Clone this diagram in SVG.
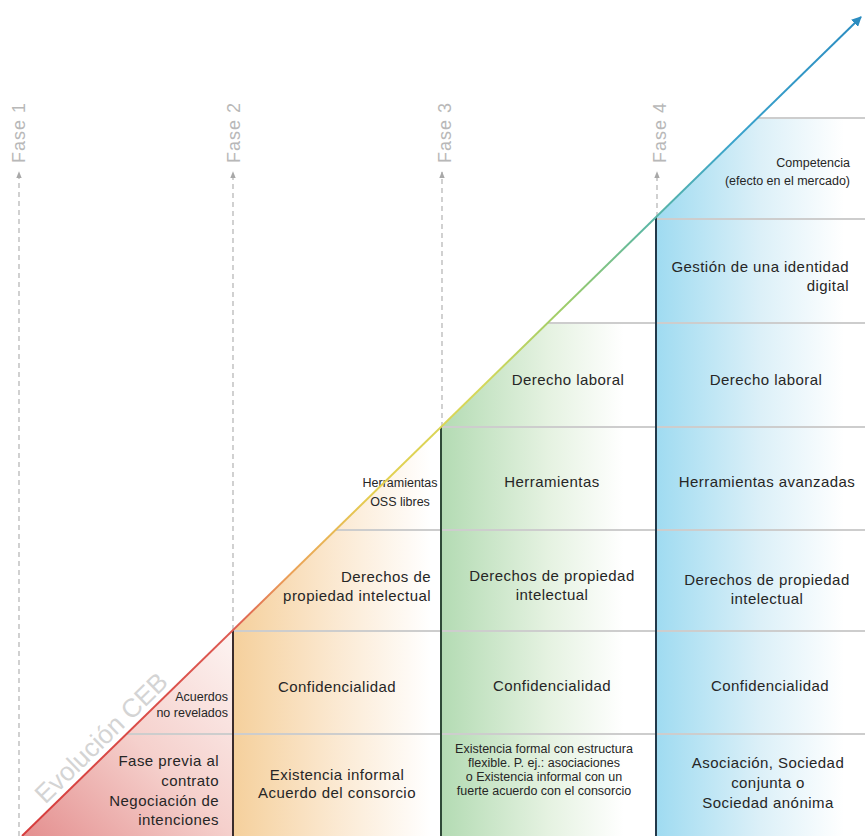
<svg xmlns="http://www.w3.org/2000/svg" width="865" height="836" viewBox="0 0 865 836">
<defs>
  <linearGradient id="gDiag" gradientUnits="userSpaceOnUse" x1="22" y1="836" x2="860" y2="18">
    <stop offset="0" stop-color="#d63c3c"/>
    <stop offset="0.25" stop-color="#dd5a52"/>
    <stop offset="0.32" stop-color="#eba158"/>
    <stop offset="0.42" stop-color="#e4cf50"/>
    <stop offset="0.55" stop-color="#d4d85a"/>
    <stop offset="0.65" stop-color="#9ccc6a"/>
    <stop offset="0.74" stop-color="#5fb8a0"/>
    <stop offset="0.85" stop-color="#3aa3cc"/>
    <stop offset="1" stop-color="#2b8cc0"/>
  </linearGradient>
  <linearGradient id="g1" x1="0" y1="1" x2="1" y2="0">
    <stop offset="0" stop-color="#e48f8f"/>
    <stop offset="0.5" stop-color="#f5d0cc"/>
    <stop offset="1" stop-color="#fdf4f2"/>
  </linearGradient>
  <linearGradient id="g2" x1="0" y1="0" x2="1" y2="0">
    <stop offset="0" stop-color="#f5d09c"/>
    <stop offset="0.5" stop-color="#fbe9d2"/>
    <stop offset="0.95" stop-color="#ffffff"/>
  </linearGradient>
  <linearGradient id="g3" x1="0" y1="0" x2="1" y2="0">
    <stop offset="0" stop-color="#b3dbb3"/>
    <stop offset="0.5" stop-color="#e5f2e1"/>
    <stop offset="0.85" stop-color="#ffffff"/>
  </linearGradient>
  <linearGradient id="g4" x1="0" y1="0" x2="1" y2="0">
    <stop offset="0" stop-color="#9fdbf1"/>
    <stop offset="0.5" stop-color="#dcf0f8"/>
    <stop offset="0.9" stop-color="#ffffff"/>
  </linearGradient>
  <marker id="mDiag" viewBox="0 0 10 10" refX="9" refY="5" markerWidth="5" markerHeight="5" orient="auto" markerUnits="strokeWidth">
    <path d="M0,0 L10,5 L0,10 z" fill="#2b8cc0"/>
  </marker>
  <marker id="mFase" viewBox="0 0 10 10" refX="9" refY="5" markerWidth="7" markerHeight="7" orient="auto" markerUnits="userSpaceOnUse">
    <path d="M0,1 L10,5 L0,9 z" fill="#a8a8a8"/>
  </marker>
</defs>
<style>
  .t { font-family: "Liberation Sans", Arial, sans-serif; font-size: 15px; fill: #262626; letter-spacing: 0.45px; }
  .s { font-family: "Liberation Sans", Arial, sans-serif; font-size: 12.5px; fill: #262626; }
  .c { text-anchor: middle; }
  .r { text-anchor: end; }
  .row { stroke: #cdcdcd; stroke-width: 2; fill: none; }
  .fase { font-family: "Liberation Sans", Arial, sans-serif; font-size: 18px; fill: #b8b8b8; letter-spacing: 1px; }
  .dash { stroke: #b8b8b8; stroke-width: 1.3; stroke-dasharray: 5 4; fill: none; }
</style>

<g id="col1">
  <polygon points="22,836 233,630 233,836" fill="url(#g1)"/>
  <line class="row" x1="126.5" y1="734" x2="233" y2="734"/>
  <text class="s r" x="228" y="701">Acuerdos</text>
  <text class="s r" x="228" y="717">no revelados</text>
  <text class="t r" x="219" y="766">Fase previa al</text>
  <text class="t r" x="219" y="786">contrato</text>
  <text class="t r" x="219" y="806">Negociación de</text>
  <text class="t r" x="219" y="825">intenciones</text>
</g>

<g id="col2">
  <polygon points="233,630 441,427 441,836 233,836" fill="url(#g2)"/>
  <line class="row" x1="335.4" y1="530" x2="441" y2="530"/>
  <line class="row" x1="233" y1="631" x2="441" y2="631"/>
  <line class="row" x1="233" y1="734" x2="441" y2="734"/>
  <text class="s c" x="400" y="487">Herramientas</text>
  <text class="s c" x="400" y="506">OSS libres</text>
  <text class="t r" x="431" y="582">Derechos de</text>
  <text class="t r" x="431" y="601">propiedad intelectual</text>
  <text class="t c" x="337" y="692">Confidencialidad</text>
  <text class="t c" x="337" y="780">Existencia informal</text>
  <text class="t c" x="337" y="798">Acuerdo del consorcio</text>
</g>

<g id="col3">
  <polygon points="441,427 547.5,323 656,323 656,836 441,836" fill="url(#g3)"/>
  <line class="row" x1="547.5" y1="323" x2="656" y2="323"/>
  <line class="row" x1="441" y1="427" x2="656" y2="427"/>
  <line class="row" x1="441" y1="530" x2="656" y2="530"/>
  <line class="row" x1="441" y1="631" x2="656" y2="631"/>
  <line class="row" x1="441" y1="734" x2="656" y2="734"/>
  <text class="t c" x="568" y="385">Derecho laboral</text>
  <text class="t c" x="552" y="487">Herramientas</text>
  <text class="t c" x="552" y="581">Derechos de propiedad</text>
  <text class="t c" x="552" y="600">intelectual</text>
  <text class="t c" x="552" y="691">Confidencialidad</text>
  <text class="s c" x="544" y="753">Existencia formal con estructura</text>
  <text class="s c" x="544" y="767">flexible. P. ej.: asociaciones</text>
  <text class="s c" x="544" y="781">o Existencia informal con un</text>
  <text class="s c" x="544" y="795">fuerte acuerdo con el consorcio</text>
</g>

<g id="col4">
  <polygon points="656,217 757.4,118 865,118 865,836 656,836" fill="url(#g4)"/>
  <line class="row" x1="757.4" y1="118" x2="865" y2="118"/>
  <line class="row" x1="656" y1="219" x2="865" y2="219"/>
  <line class="row" x1="656" y1="323" x2="865" y2="323"/>
  <line class="row" x1="656" y1="427" x2="865" y2="427"/>
  <line class="row" x1="656" y1="530" x2="865" y2="530"/>
  <line class="row" x1="656" y1="631" x2="865" y2="631"/>
  <line class="row" x1="656" y1="734" x2="865" y2="734"/>
  <text class="s r" x="850" y="167">Competencia</text>
  <text class="s r" x="850" y="185">(efecto en el mercado)</text>
  <text class="t r" x="849" y="272">Gestión de una identidad</text>
  <text class="t r" x="849" y="291">digital</text>
  <text class="t c" x="766" y="385">Derecho laboral</text>
  <text class="t c" x="767" y="487">Herramientas avanzadas</text>
  <text class="t c" x="767" y="585">Derechos de propiedad</text>
  <text class="t c" x="767" y="604">intelectual</text>
  <text class="t c" x="770" y="691">Confidencialidad</text>
  <text class="t c" x="768" y="768">Asociación, Sociedad</text>
  <text class="t c" x="768" y="788">conjunta o</text>
  <text class="t c" x="768" y="808">Sociedad anónima</text>
</g>

<g id="separators">
  <line x1="233" y1="630" x2="233" y2="836" stroke="#3a2c2c" stroke-width="2"/>
  <line x1="441" y1="427" x2="441" y2="836" stroke="#2f4a38" stroke-width="2"/>
  <line x1="656" y1="217" x2="656" y2="836" stroke="#22394a" stroke-width="2"/>
</g>

<g id="fases">
  <text class="fase" transform="translate(25,163) rotate(-90)">Fase 1</text>
  <text class="fase" transform="translate(240,163) rotate(-90)">Fase 2</text>
  <text class="fase" transform="translate(451,163) rotate(-90)">Fase 3</text>
  <text class="fase" transform="translate(666,163) rotate(-90)">Fase 4</text>
</g>

<g id="connectors">
  <line class="dash" x1="19" y1="836" x2="19" y2="172" marker-end="url(#mFase)"/>
  <line class="dash" x1="233" y1="630" x2="233" y2="172" marker-end="url(#mFase)"/>
  <line class="dash" x1="442" y1="427" x2="442" y2="172" marker-end="url(#mFase)"/>
  <line class="dash" x1="657" y1="217" x2="657" y2="172" marker-end="url(#mFase)"/>
  <line x1="22" y1="836" x2="861" y2="17" stroke="url(#gDiag)" stroke-width="2" marker-end="url(#mDiag)"/>
</g>

<g id="evolucion">
  <text transform="translate(107.4,744.2) rotate(-44.3)" text-anchor="middle" font-family="Liberation Sans, Arial, sans-serif" font-size="26" fill="#d4d4d4">Evolución CEB</text>
</g>
</svg>
